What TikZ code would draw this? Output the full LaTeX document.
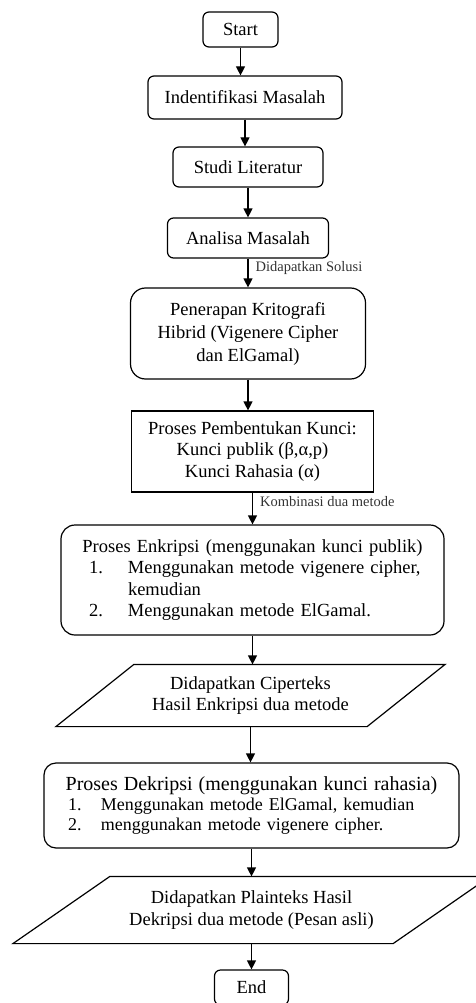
\documentclass[tikz,border=0pt]{standalone}
\usepackage{fontspec}
\setmainfont{Liberation Serif}
\usetikzlibrary{arrows.meta}
\tikzstyle{terminal} = [draw, rectangle, rounded corners=6pt, minimum height=35pt, minimum width=75pt, inner sep=0pt]
\tikzstyle{proses} = [draw, rectangle, rounded corners=6pt, inner sep=0pt, align=center]
\tikzstyle{besar} = [draw, rectangle, rounded corners=14pt, inner sep=0pt, align=left]
\tikzstyle{kunci} = [draw, rectangle, inner sep=0pt, align=center]
\tikzstyle{data} = [rectangle, inner sep=0pt, align=center]
\tikzstyle{lbl} = [right, inner sep=3pt, xshift=4pt, text=black!80, font=\fontsize{14.5}{16}\selectfont]

\begin{document}
\begin{tikzpicture}[x=1pt, y=1pt, >={Triangle[width=9pt,length=9pt]}, line width=1.2pt,
    font=\fontsize{18.5}{21.5}\selectfont]
    % keep the page the same size as the original
    \useasboundingbox (0,0) rectangle (475,-1003);
    \node [terminal] (start) at (240.5,-29.5) {Start};
    \node [proses, node distance=68pt, below of=start, xshift=4.5pt, minimum width=194pt, minimum height=43pt] (identifikasi) {Indentifikasi Masalah};
    \node [proses, node distance=69.5pt, below of=identifikasi, xshift=3pt, minimum width=150pt, minimum height=40pt] (studi) {Studi Literatur};
    \node [proses, node distance=71pt, below of=studi, minimum width=161pt, minimum height=40pt] (analisa) {Analisa Masalah};
    \node [proses, rounded corners=15pt, node distance=95.5pt, below of=analisa, minimum width=235pt, minimum height=91pt,
        font=\fontsize{18.5}{23}\selectfont] (penerapan) {Penerapan Kritografi\\Hibrid (Vigenere Cipher\\dan ElGamal)};
    \node [kunci, node distance=118pt, below of=penerapan, xshift=4.5pt, minimum width=242pt, minimum height=81pt] (pembentukan)
        {Proses Pembentukan Kunci:\\Kunci publik (β,α,p)\\Kunci Rahasia (α)};
    \node [besar, node distance=128.5pt, below of=pembentukan, minimum width=383pt, text width=383pt, minimum height=110pt] (enkripsi)
        {{\centering Proses Enkripsi (menggunakan kunci publik)\par}
        \hspace*{28pt}\makebox[39pt][l]{1.}Menggunakan metode vigenere cipher,\\
        \hspace*{67pt}kemudian\\
        \hspace*{28pt}\makebox[39pt][l]{2.}Menggunakan metode ElGamal.};
    \node [data, node distance=115.5pt, below of=enkripsi, xshift=-2pt, minimum width=310pt, minimum height=61pt] (ciperteks)
        {Didapatkan Ciperteks\\Hasil Enkripsi dua metode};
    \node [besar, rounded corners=12pt, node distance=110pt, below of=ciperteks, xshift=1pt, minimum width=415pt, text width=415pt, minimum height=85pt,
        font=\fontsize{18}{20}\selectfont] (dekripsi)
        {{\fontsize{20}{22}\selectfont\centering Proses Dekripsi (menggunakan kunci rahasia)\par}
        \hspace*{24pt}\makebox[33pt][l]{1.}Menggunakan metode ElGamal, kemudian\\
        \hspace*{24pt}\makebox[33pt][l]{2.}menggunakan metode vigenere cipher.};
    \node [data, node distance=104.5pt, below of=dekripsi, minimum width=379pt, minimum height=66pt] (plainteks)
        {Didapatkan Plainteks Hasil\\Dekripsi dua metode (Pesan asli)};
    \node [terminal, node distance=77.5pt, below of=plainteks, minimum width=74pt] (end) {End};

    % the two slanted data boxes
    \draw ([xshift=39pt]ciperteks.north west) -- ([xshift=39pt]ciperteks.north east)
        -- ([xshift=-39pt]ciperteks.south east) -- ([xshift=-39pt]ciperteks.south west) -- cycle;
    \draw ([xshift=48.5pt]plainteks.north west) -- ([xshift=48.5pt]plainteks.north east)
        -- ([xshift=-48.5pt]plainteks.south east) -- ([xshift=-48.5pt]plainteks.south west) -- cycle;

    \draw [->] (start.south) -- (start.south |- identifikasi.north);
    \draw [->] (identifikasi.south) -- (identifikasi.south |- studi.north);
    \draw [->] (studi.south) -- (studi.south |- analisa.north);
    \draw [->] (analisa.south) -- node[lbl, pos=0.33] {Didapatkan Solusi} (analisa.south |- penerapan.north);
    \draw [->] (penerapan.south) -- (penerapan.south |- pembentukan.north);
    \draw [->] (pembentukan.south) -- node[lbl, pos=0.27] {Kombinasi dua metode} (pembentukan.south |- enkripsi.north);
    \draw [->] (enkripsi.south) -- (enkripsi.south |- ciperteks.north);
    \draw [->] (ciperteks.south) -- (ciperteks.south |- dekripsi.north);
    \draw [->] (dekripsi.south) -- (dekripsi.south |- plainteks.north);
    \draw [->] (plainteks.south) -- (plainteks.south |- end.north);
\end{tikzpicture}
\end{document}
